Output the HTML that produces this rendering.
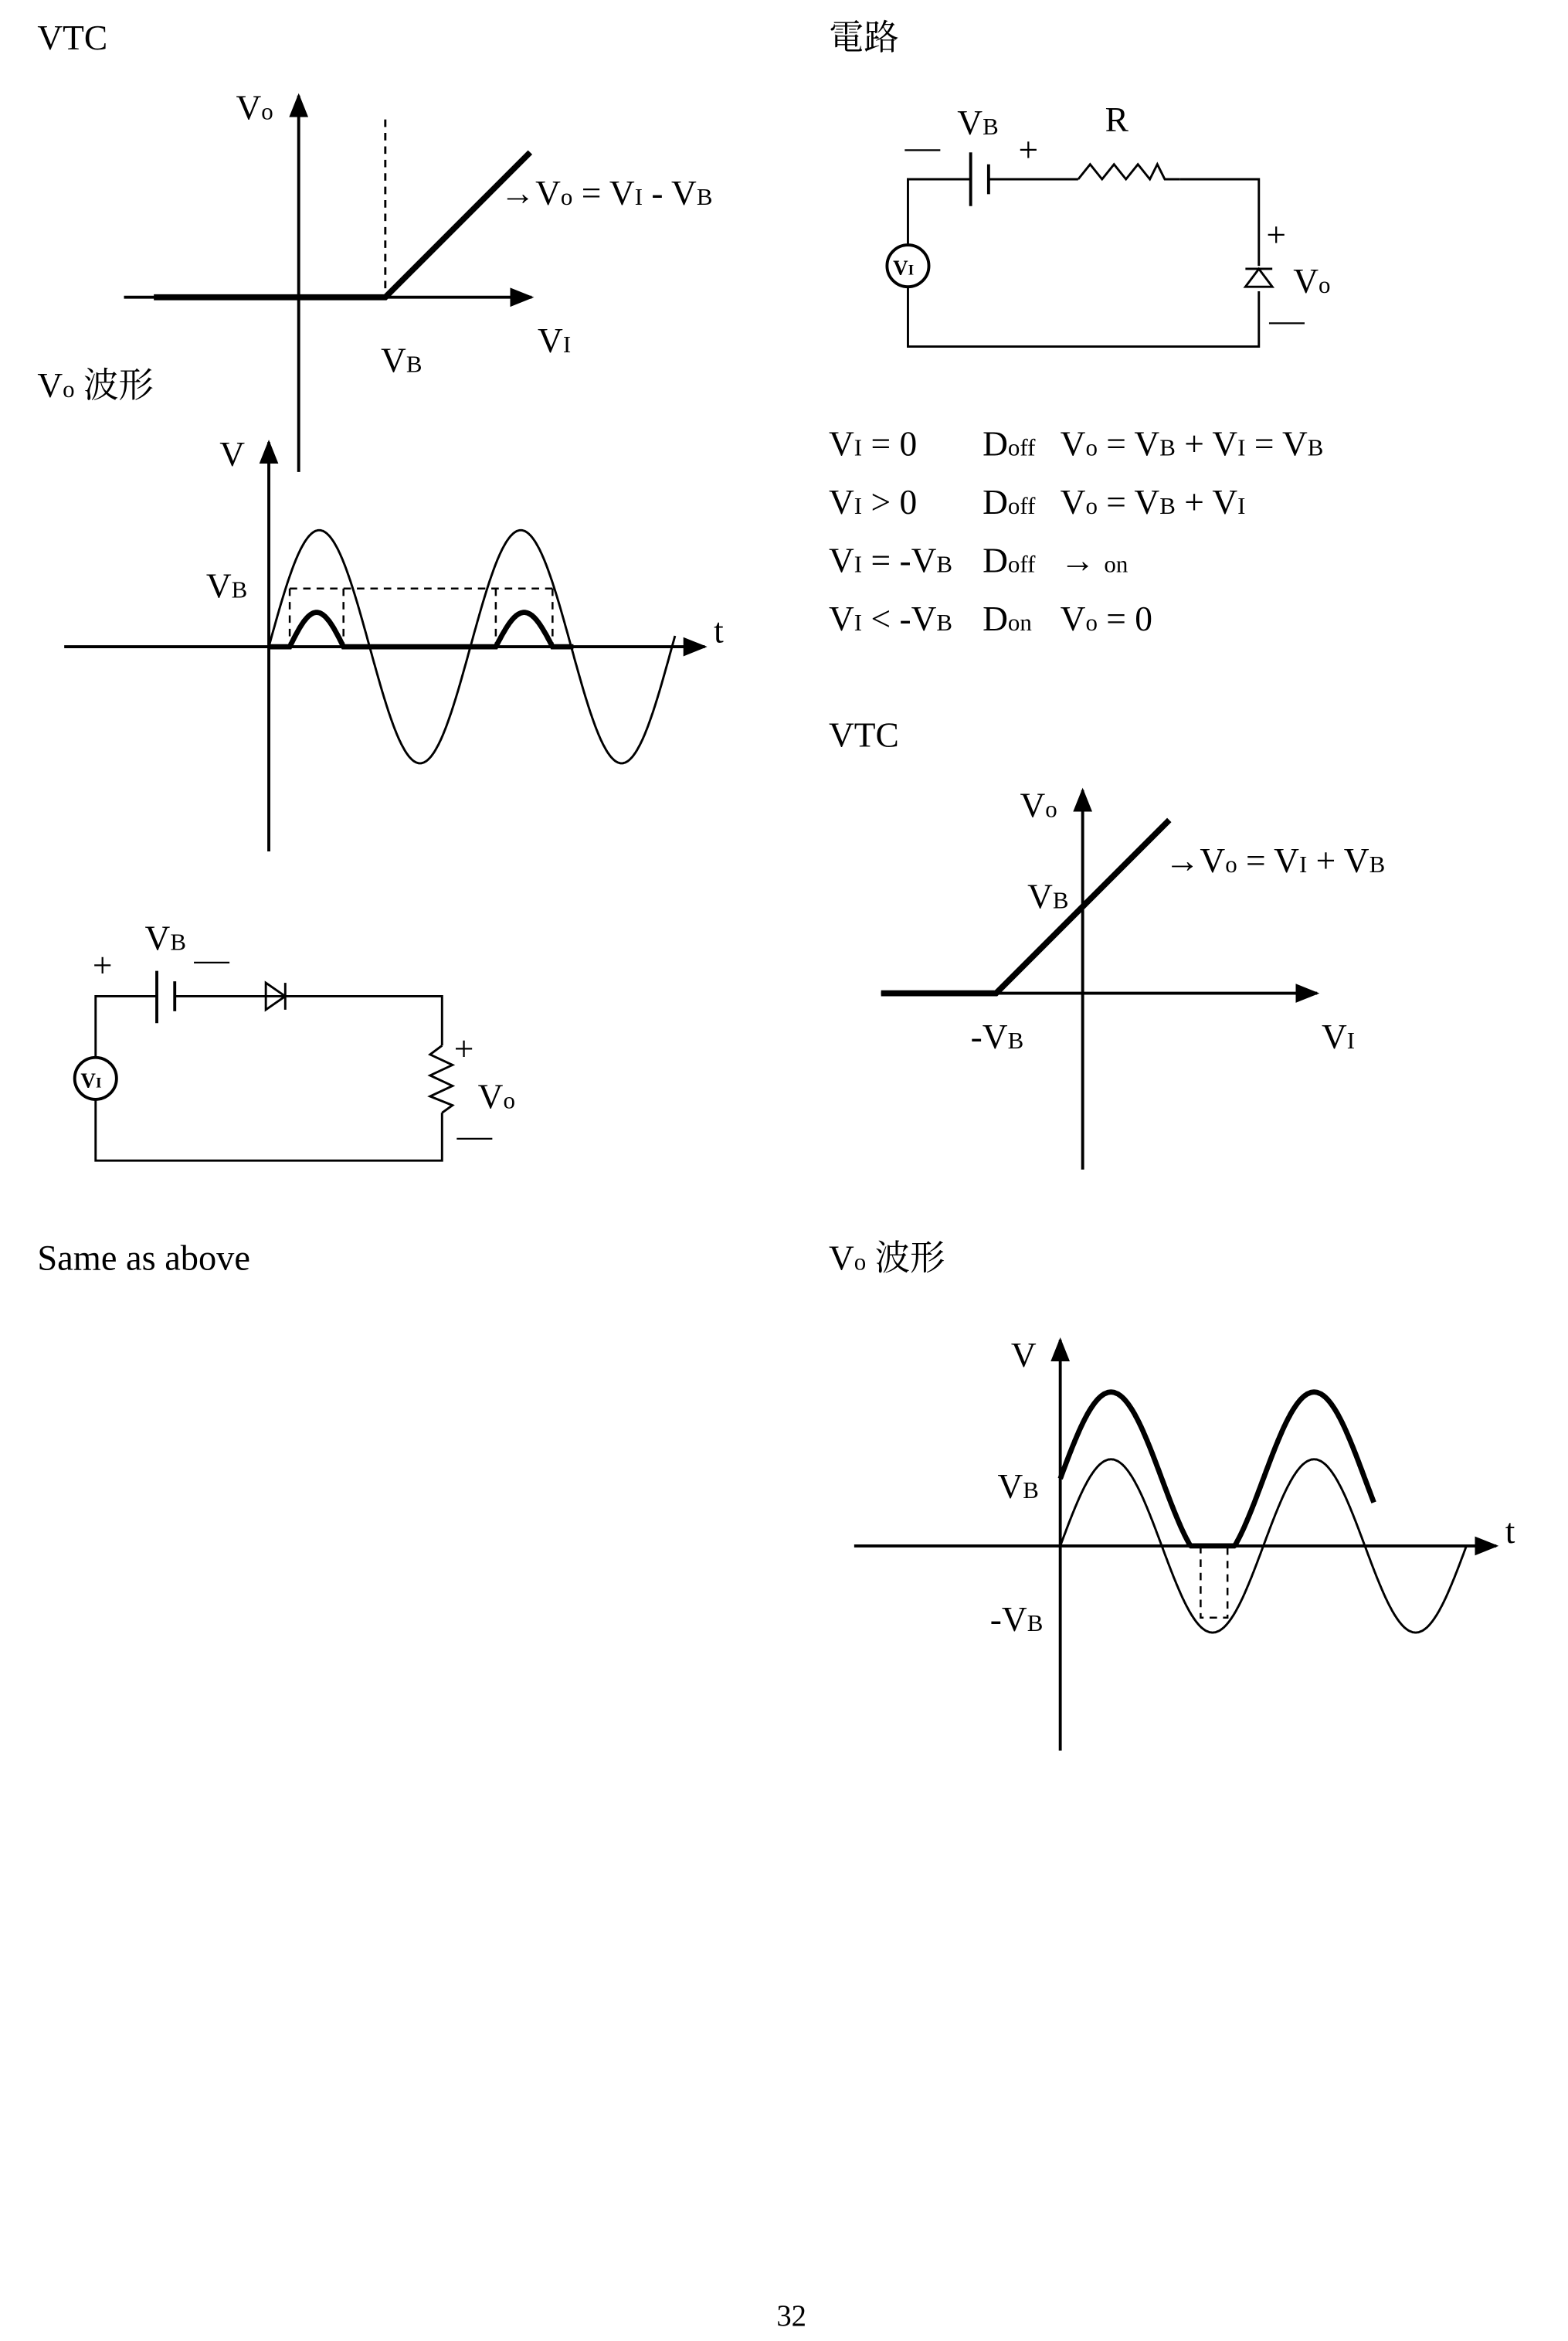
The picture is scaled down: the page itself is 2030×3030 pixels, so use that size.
<!DOCTYPE html>
<html><head><meta charset="utf-8"><style>
html,body{margin:0;padding:0;background:#fff;}
svg{display:block;}
text{font-family:"Liberation Serif","Noto Serif CJK SC",serif;fill:#000;}
.s{font-size:16px;}
</style></head><body>
<svg id="sv" width="2030" height="3030" viewBox="0 0 1050 1567.3" xmlns="http://www.w3.org/2000/svg">
<defs><marker id="a2" viewBox="0 0 10 10" refX="9" refY="5" markerWidth="16" markerHeight="16" orient="auto" markerUnits="userSpaceOnUse"><path d="M0,1L10,5L0,9z"/></marker></defs>
<g font-size="23.5">
<text x="25" y="33">VTC</text>
<line x1="200" y1="316" x2="200" y2="64" stroke="#000" stroke-width="2" marker-end="url(#a2)"/>
<line x1="83" y1="199" x2="356" y2="199" stroke="#000" stroke-width="2" marker-end="url(#a2)"/>
<polyline points="103,199 258,199 355,102" fill="none" stroke="#000" stroke-width="4"/>
<line x1="258" y1="80" x2="258" y2="199" stroke="#000" stroke-width="1.5" stroke-dasharray="5,4"/>
<text x="158" y="80">V<tspan class="s">o</tspan></text>
<text x="335" y="137">→V<tspan class="s">o</tspan> = V<tspan class="s">I</tspan> - V<tspan class="s">B</tspan></text>
<text x="255" y="249">V<tspan class="s">B</tspan></text>
<text x="360" y="236">V<tspan class="s">I</tspan></text>
<text x="25" y="266">V<tspan class="s">o</tspan> 波形</text>
<line x1="180" y1="570" x2="180" y2="296" stroke="#000" stroke-width="2" marker-end="url(#a2)"/>
<line x1="43" y1="433" x2="472" y2="433" stroke="#000" stroke-width="2" marker-end="url(#a2)"/>
<text x="478" y="430">t</text><text x="147" y="312">V</text>
<text x="138" y="400">V<tspan class="s">B</tspan></text>
<path id="w1" fill="none" stroke="#000" stroke-width="1.5"/>
<path id="w1t" fill="none" stroke="#000" stroke-width="3.5"/>
<path d="M194,394H370M194,394V433M230,394V433M332,394V433M370,394V433" stroke="#000" stroke-width="1.3" stroke-dasharray="5,4" fill="none"/>
<text x="97" y="636">V<tspan class="s">B</tspan></text>
<text x="62" y="654">+</text><text x="130" y="650">—</text>
<path d="M64,708V667H105M117,667H296V700M296,745V777H64V736" fill="none" stroke="#000" stroke-width="1.5"/>
<line x1="105" y1="650" x2="105" y2="685" stroke="#000" stroke-width="2"/>
<line x1="117" y1="657" x2="117" y2="677" stroke="#000" stroke-width="2"/>
<path d="M178,658L191,667L178,676z" fill="none" stroke="#000" stroke-width="1.5"/><line x1="191" y1="658" x2="191" y2="676" stroke="#000" stroke-width="1.5"/>
<polyline points="296,700 288,706 303,713 288,720 303,727 288,734 303,740 296,745" fill="none" stroke="#000" stroke-width="1.5"/>
<circle cx="64" cy="722" r="14" fill="#fff" stroke="#000" stroke-width="2"/>
<text x="54" y="728" font-size="14" font-weight="bold">V<tspan font-size="10">I</tspan></text>
<text x="304" y="710">+</text><text x="320" y="742">V<tspan class="s">o</tspan></text><text x="306" y="768">—</text>
<text x="25" y="850" font-family="Liberation Sans, sans-serif" font-size="24">Same as above</text>
<text x="555" y="33">電路</text>
<text x="641" y="90">V<tspan class="s">B</tspan></text>
<text x="606" y="106">—</text><text x="682" y="108">+</text><text x="740" y="88">R</text>
<path d="M650,120H608V165M608,192V232H843V195M843,178V120H790M722,120H662" fill="none" stroke="#000" stroke-width="1.5"/>
<line x1="650" y1="102" x2="650" y2="138" stroke="#000" stroke-width="2"/>
<line x1="662" y1="110" x2="662" y2="130" stroke="#000" stroke-width="2"/>
<polyline points="722,120 730,110 738,120 746,110 754,120 762,110 770,120 775,110 780,120 790,120" fill="none" stroke="#000" stroke-width="1.5"/>
<path d="M834,192L852,192L843,180z" fill="none" stroke="#000" stroke-width="1.5"/><line x1="834" y1="180" x2="852" y2="180" stroke="#000" stroke-width="1.5"/>
<circle cx="608" cy="178" r="14" fill="#fff" stroke="#000" stroke-width="2"/>
<text x="598" y="184" font-size="14" font-weight="bold">V<tspan font-size="10">I</tspan></text>
<text x="848" y="165">+</text><text x="866" y="196">V<tspan class="s">o</tspan></text><text x="850" y="222">—</text>
<text x="555" y="305">V<tspan class="s">I</tspan> = 0</text><text x="658" y="305">D<tspan class="s">off</tspan></text><text x="710" y="305">V<tspan class="s">o</tspan> = V<tspan class="s">B</tspan> + V<tspan class="s">I</tspan> = V<tspan class="s">B</tspan></text>
<text x="555" y="344">V<tspan class="s">I</tspan> &gt; 0</text><text x="658" y="344">D<tspan class="s">off</tspan></text><text x="710" y="344">V<tspan class="s">o</tspan> = V<tspan class="s">B</tspan> + V<tspan class="s">I</tspan></text>
<text x="555" y="383">V<tspan class="s">I</tspan> = -V<tspan class="s">B</tspan></text><text x="658" y="383">D<tspan class="s">off</tspan></text><text x="710" y="383">→ <tspan class="s">on</tspan></text>
<text x="555" y="422">V<tspan class="s">I</tspan> &lt; -V<tspan class="s">B</tspan></text><text x="658" y="422">D<tspan class="s">on</tspan></text><text x="710" y="422">V<tspan class="s">o</tspan> = 0</text>
<text x="555" y="500">VTC</text>
<line x1="725" y1="783" x2="725" y2="529" stroke="#000" stroke-width="2" marker-end="url(#a2)"/>
<line x1="590" y1="665" x2="882" y2="665" stroke="#000" stroke-width="2" marker-end="url(#a2)"/>
<polyline points="590,665 667,665 783,549" fill="none" stroke="#000" stroke-width="4"/>
<text x="683" y="547">V<tspan class="s">o</tspan></text>
<text x="780" y="584">→V<tspan class="s">o</tspan> = V<tspan class="s">I</tspan> + V<tspan class="s">B</tspan></text>
<text x="688" y="608">V<tspan class="s">B</tspan></text>
<text x="650" y="702">-V<tspan class="s">B</tspan></text>
<text x="885" y="702">V<tspan class="s">I</tspan></text>
<text x="555" y="850">V<tspan class="s">o</tspan> 波形</text>
<line x1="710" y1="1172" x2="710" y2="897" stroke="#000" stroke-width="2" marker-end="url(#a2)"/>
<line x1="572" y1="1035" x2="1002" y2="1035" stroke="#000" stroke-width="2" marker-end="url(#a2)"/>
<text x="677" y="915">V</text><text x="1008" y="1033">t</text>
<text x="668" y="1003">V<tspan class="s">B</tspan></text>
<text x="663" y="1092">-V<tspan class="s">B</tspan></text>
<path id="w2" fill="none" stroke="#000" stroke-width="1.5"/>
<path id="w2t" fill="none" stroke="#000" stroke-width="3.5"/>
<path d="M804,1035V1083H822V1035" fill="none" stroke="#000" stroke-width="1.3" stroke-dasharray="5,4"/>
<text x="520" y="1557" font-size="20">32</text>
</g>
<script>
function P(f,a,b){var s='';for(var x=a;x<=b;x+=0.5){s+=(x==a?'M':'L')+x.toFixed(1)+','+f(x).toFixed(1);}return s;}
var T1=135;function s1(x){return 433-78*Math.sin(2*Math.PI*(x-180)/T1);}
document.getElementById('w1').setAttribute('d',P(s1,180,452));
function s1t(x){
 if(x>=194&&x<=230)return 433-23*Math.sin(Math.PI*(x-194)/36);
 if(x>=332&&x<=370)return 433-23*Math.sin(Math.PI*(x-332)/38);
 return 433;}
document.getElementById('w1t').setAttribute('d',P(s1t,180,384));
var T2=136;function s2(x){return 1035-58*Math.sin(2*Math.PI*(x-710)/T2);}
document.getElementById('w2').setAttribute('d',P(s2,710,982));
function s2t(x){return Math.min(1035,s2(x)-45);}
document.getElementById('w2t').setAttribute('d',P(s2t,710,920));
</script>
</svg>
</body></html>
